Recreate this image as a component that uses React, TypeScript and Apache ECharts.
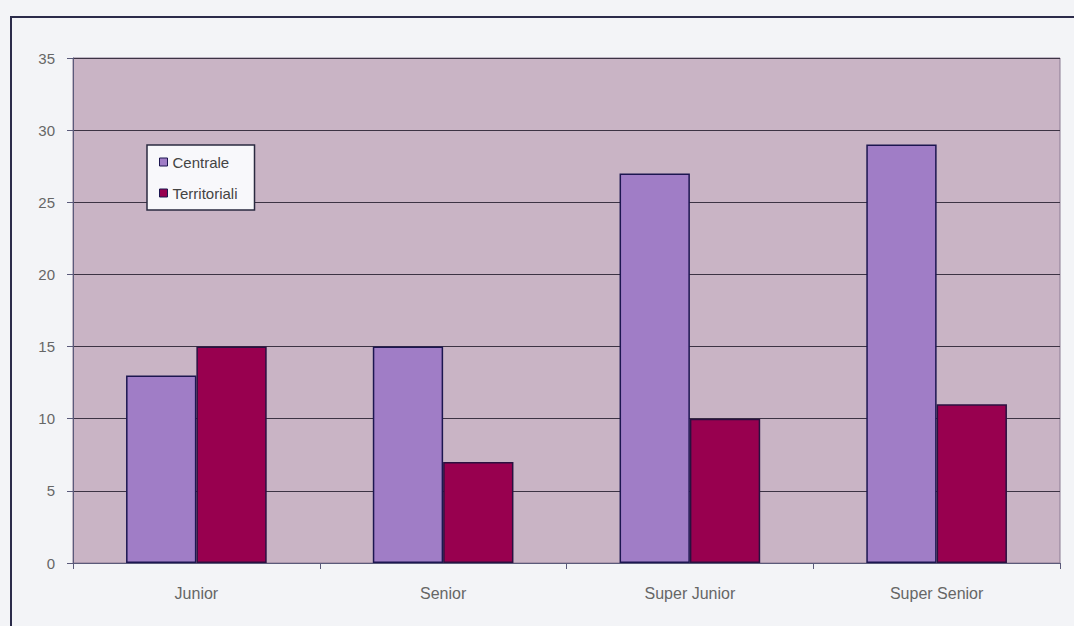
import React, { useEffect, useRef } from "react";
import * as echarts from "echarts";

const categories = ["Junior", "Senior", "Super Junior", "Super Senior"];
const centrale = [13, 15, 27, 29];
const territoriali = [15, 7, 10, 11];
const seriesNames = ["Centrale", "Territoriali"];

export default function App() {
  const ref = useRef<HTMLDivElement>(null);
  useEffect(() => {
    document.body.style.margin = "0";
    const chart = echarts.init(ref.current!, undefined, { renderer: "svg" });
    const font = "'Liberation Sans', Arial, sans-serif";
    chart.setOption({
      animation: false,
      backgroundColor: "#f3f4f7",
      grid: { left: 73, right: 14, top: 58, bottom: 63, show: true, backgroundColor: "#c9b4c5", borderColor: "#8a7a92", borderWidth: 1 },
      legend: {
        orient: "vertical",
        left: 147,
        top: 145,
        padding: [9, 17, 9, 12],
        itemGap: 15,
        itemWidth: 8,
        itemHeight: 8,
        backgroundColor: "#f8f8fb",
        borderColor: "#2a2a40",
        borderWidth: 1.5,
        icon: "rect",
        itemStyle: { borderColor: "#1c1650", borderWidth: 1 },
        textStyle: { fontFamily: font, fontSize: 15, color: "#444", lineHeight: 16 },
        data: seriesNames,
      },
      xAxis: {
        type: "category",
        data: categories,
        axisLine: { lineStyle: { color: "#5a5a7a", width: 1 } },
        axisTick: { show: true, alignWithLabel: false, length: 6, lineStyle: { color: "#5a5a7a" } },
        axisLabel: { fontFamily: font, fontSize: 16, color: "#666", margin: 22 },
      },
      yAxis: {
        type: "value",
        min: 0,
        max: 35,
        interval: 5,
        axisLine: { show: true, lineStyle: { color: "#5a5a7a" } },
        axisTick: { show: true, length: 6, lineStyle: { color: "#5a5a7a" } },
        axisLabel: { fontFamily: font, fontSize: 15, color: "#666", margin: 18 },
        splitLine: { lineStyle: { color: "#3c3344", width: 1 } },
      },
      series: [
        {
          name: seriesNames[0],
          type: "bar",
          data: centrale,
          barGap: "0%",
          barCategoryGap: "43%",
          itemStyle: { color: "#a07dc6", borderColor: "#1c1650", borderWidth: 1.5 },
        },
        {
          name: seriesNames[1],
          type: "bar",
          data: territoriali,
          itemStyle: { color: "#98004f", borderColor: "#2a1040", borderWidth: 1.5 },
        },
      ],
      graphic: [
        {
          type: "rect",
          shape: { x: 11, y: 17, width: 1080, height: 640 },
          style: { fill: "none", stroke: "#2b2b4a", lineWidth: 2 },
          silent: true,
          z: 100,
        },
      ],
    });
    return () => chart.dispose();
  }, []);
  return <div ref={ref} style={{ width: 1074, height: 626, position: "absolute", left: 0, top: 0 }} />;
}
